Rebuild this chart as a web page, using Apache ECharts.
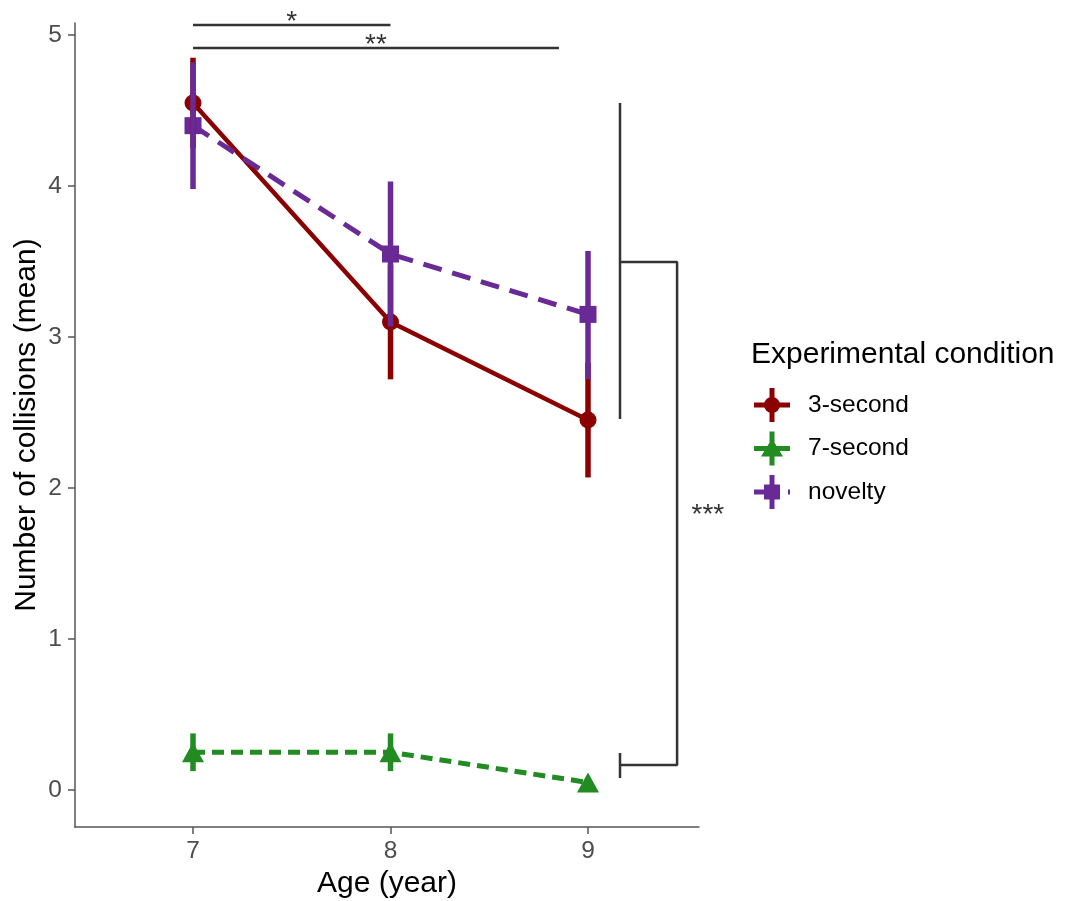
<!DOCTYPE html>
<html>
<head>
<meta charset="utf-8">
<script src="https://cdn.jsdelivr.net/npm/echarts@6/dist/echarts.min.js"></script>
<style>
html,body{margin:0;padding:0;background:#fff;}
#chart{width:1065px;height:901px;}
</style>
</head>
<body>
<div id="chart"></div>
<script>
// ---- data ----
const ages = [7, 8, 9];
const groups = ['3-second', '7-second', 'novelty'];
const mean3 = [4.55, 3.10, 2.45];
const lo3   = [4.25, 2.72, 2.07];
const hi3   = [4.85, 3.48, 2.83];
const mean7 = [0.25, 0.25, 0.05];
const lo7   = [0.125, 0.125, 0.05];
const hi7   = [0.375, 0.375, 0.05];
const meanN = [4.40, 3.55, 3.15];
const loN   = [3.98, 3.07, 2.72];
const hiN   = [4.82, 4.03, 3.57];
const yTicks = [0, 1, 2, 3, 4, 5];
const xTicks = [7, 8, 9];
// significance brackets (data coordinates)
const brStar1 = [[7, 5.066], [8, 5.066]];
const brStar2 = [[7, 4.914], [8.853, 4.914]];
const brVert  = [[9.162, 4.55], [9.162, 2.457]];
const brRight = [[9.162, 3.497], [9.451, 3.497], [9.451, 0.166], [9.162, 0.166]];
const brTick  = [[9.162, 0.245], [9.162, 0.079]];
const sigLabels = ['*', '**', '***'];

const colors = {'3-second': '#8B0000', '7-second': '#228B22', 'novelty': '#6A2A95'};
const FONT = "'Liberation Sans', Arial, Helvetica, sans-serif";

function pts(m) { return ages.map((a, i) => [a, m[i]]); }
function bars(lo, hi) { return ages.map((a, i) => [a, lo[i], hi[i]]); }

function errSeries(name, lo, hi) {
  const c = colors[name];
  return {
    type: 'custom', name: name, z: 4, silent: true,
    data: bars(lo, hi),
    encode: {x: 0, y: [1, 2]},
    renderItem: function (params, api) {
      const p1 = api.coord([api.value(0), api.value(1)]);
      const p2 = api.coord([api.value(0), api.value(2)]);
      return {type: 'line', shape: {x1: p1[0], y1: p1[1], x2: p2[0], y2: p2[1]},
              style: {stroke: c, lineWidth: 5.5, lineCap: 'butt'}};
    }
  };
}

function bracket(data) {
  return {
    type: 'line', data: data, symbol: 'none', silent: true, z: 5,
    lineStyle: {color: '#333', width: 2.5}
  };
}

const iconCircle = 'path://M15.5 0 H20.5 V34 H15.5 Z M0 14.5 H36 V19.5 H0 Z M10 17 A8 8 0 1 1 26 17 A8 8 0 1 1 10 17 Z';
const iconTri = 'path://M15.5 0 H20.5 V34 H15.5 Z M0 14.5 H36 V19.5 H0 Z M7 25 L18 7 L29 25 Z';
const iconSq = 'path://M15.5 0 H20.5 V34 H15.5 Z M0 14.5 H11 V19.5 H0 Z M10 9.5 H26 V24.5 H10 Z M34 14.5 H36 V19.5 H34 Z';

const chart = echarts.init(document.getElementById('chart'));
chart.setOption({
  animation: false,
  backgroundColor: '#fff',
  textStyle: {fontFamily: FONT},
  title: {
    text: 'Experimental condition', left: 751, top: 340, padding: 0,
    textStyle: {fontSize: 30, fontWeight: 'normal', color: '#000', fontFamily: FONT}
  },
  legend: {
    orient: 'vertical', left: 754, top: 388, padding: 0,
    itemWidth: 36, itemHeight: 34, itemGap: 9.5,
    itemStyle: {borderWidth: 0},
    textStyle: {fontSize: 24.5, color: '#000', fontFamily: FONT, padding: [0, 0, 0, 13]},
    data: [
      {name: '3-second', icon: iconCircle},
      {name: '7-second', icon: iconTri},
      {name: 'novelty', icon: iconSq}
    ],
    selectedMode: false
  },
  grid: {left: 75, right: 366, top: 23, bottom: 74, containLabel: false, outerBoundsMode: 'none'},
  xAxis: {
    type: 'value', min: 6.4025, max: 9.562,
    name: 'Age (year)', nameLocation: 'middle', nameGap: 42, nameMoveOverlap: false,
    nameTextStyle: {fontSize: 30, color: '#000', fontFamily: FONT},
    axisLine: {show: true, onZero: false, lineStyle: {color: '#555', width: 1.5}},
    axisTick: {show: true, length: 7, customValues: xTicks, lineStyle: {color: '#555', width: 1.5}},
    axisLabel: {customValues: xTicks, fontSize: 24.5, color: '#4D4D4D', margin: 12, fontFamily: FONT},
    splitLine: {show: false}
  },
  yAxis: {
    type: 'value', min: -0.245, max: 5.08,
    name: 'Number of collisions (mean)', nameLocation: 'middle', nameGap: 33, nameMoveOverlap: false,
    nameTextStyle: {fontSize: 30, color: '#000', fontFamily: FONT},
    axisLine: {show: true, onZero: false, lineStyle: {color: '#555', width: 1.5}},
    axisTick: {show: true, length: 7, customValues: yTicks, lineStyle: {color: '#555', width: 1.5}},
    axisLabel: {customValues: yTicks, fontSize: 24.5, color: '#4D4D4D', margin: 13, fontFamily: FONT},
    splitLine: {show: false}
  },
  series: [
    {
      type: 'line', name: '3-second', data: pts(mean3), z: 2,
      symbol: 'circle', symbolSize: 17,
      itemStyle: {color: colors['3-second'], borderWidth: 0},
      lineStyle: {color: colors['3-second'], width: 4.5, type: 'solid'}
    },
    {
      type: 'line', name: '7-second', data: pts(mean7), z: 2,
      symbol: 'triangle', symbolSize: [22, 20],
      itemStyle: {color: colors['7-second'], borderWidth: 0},
      lineStyle: {color: colors['7-second'], width: 5, type: [12, 7]}
    },
    {
      type: 'line', name: 'novelty', data: pts(meanN), z: 2,
      symbol: 'rect', symbolSize: 17,
      itemStyle: {color: colors['novelty'], borderWidth: 0},
      lineStyle: {color: colors['novelty'], width: 5, type: [19, 11]}
    },
    errSeries('3-second', lo3, hi3),
    errSeries('7-second', lo7, hi7),
    errSeries('novelty', loN, hiN),
    bracket(brStar1),
    bracket(brStar2),
    bracket(brVert),
    bracket(brRight),
    bracket(brTick),
    {
      type: 'scatter', silent: true, symbol: 'circle', symbolSize: 1, z: 6,
      itemStyle: {color: 'rgba(0,0,0,0)'},
      data: [
        {value: [(brStar1[0][0] + brStar1[1][0]) / 2, brStar1[0][1]], label: {formatter: sigLabels[0], position: 'top', offset: [0, 12]}},
        {value: [(brStar2[0][0] + brStar2[1][0]) / 2, brStar2[0][1]], label: {formatter: sigLabels[1], position: 'top', offset: [0, 12]}},
        {value: [brRight[1][0], (brRight[1][1] + brRight[2][1]) / 2], label: {formatter: sigLabels[2], position: 'right', distance: 14, offset: [0, 2]}}
      ],
      label: {show: true, fontSize: 28, color: '#000', fontFamily: FONT, distance: 0}
    }
  ]
});
</script>
</body>
</html>
